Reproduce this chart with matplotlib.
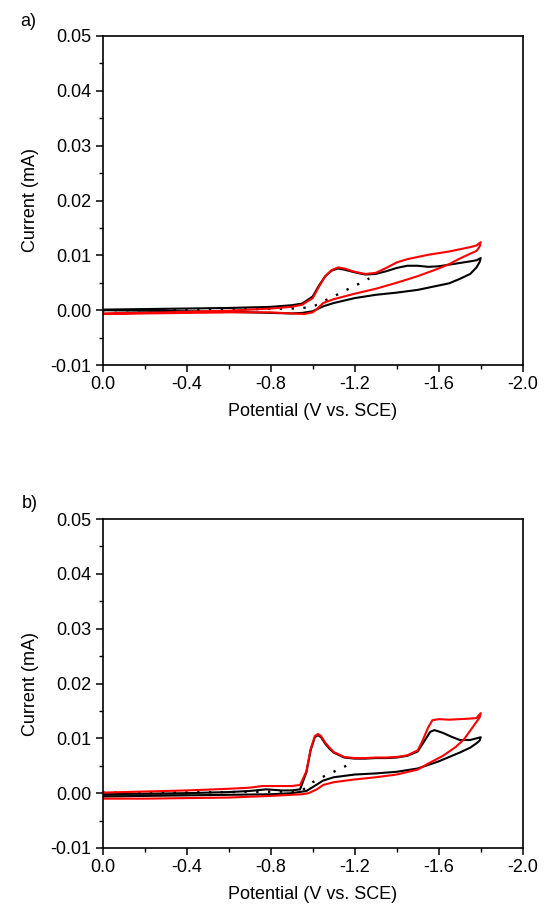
import matplotlib
matplotlib.use("Agg")
import matplotlib.pyplot as plt
from matplotlib.ticker import MultipleLocator, FormatStrFormatter

plt.rcParams['font.family'] = ['Liberation Sans', 'DejaVu Sans']
plt.rcParams['axes.unicode_minus'] = False

# ---------------- data: panel a ----------------
a_black_V = [0, -0.2, -0.4, -0.6, -0.8, -0.9, -0.95, -1.0, -1.03, -1.06, -1.09, -1.12, -1.15,
             -1.2, -1.25, -1.3, -1.35, -1.4, -1.45, -1.5, -1.55, -1.6, -1.65, -1.7, -1.75, -1.78, -1.8,
             -1.795, -1.78, -1.75, -1.7, -1.65, -1.6, -1.5, -1.4, -1.3, -1.2, -1.1, -1.05, -1.0,
             -0.95, -0.9, -0.8, -0.6, -0.4, -0.2, 0]
a_black_I = [0.0001, 0.0002, 0.0003, 0.0004, 0.0006, 0.0009, 0.0012, 0.0025, 0.0045, 0.0062, 0.0072,
             0.0076, 0.0074, 0.0069, 0.0065, 0.0066, 0.0071, 0.0077, 0.0081, 0.0081, 0.0079, 0.0080,
             0.0083, 0.0086, 0.0089, 0.0091, 0.0095,
             0.0088, 0.0078, 0.0066, 0.0057, 0.0049, 0.0045, 0.0037, 0.0032, 0.0028, 0.0022, 0.0013,
             0.0007, -0.0002, -0.0005, -0.0006, -0.0005, -0.0003, -0.0002, -0.0001, 0.0000]

a_red_V = [0, -0.2, -0.4, -0.6, -0.8, -0.9, -0.95, -1.0, -1.03, -1.06, -1.09, -1.12, -1.15,
           -1.2, -1.25, -1.3, -1.35, -1.4, -1.45, -1.5, -1.55, -1.6, -1.65, -1.7, -1.75, -1.78, -1.8,
           -1.795, -1.78, -1.75, -1.7, -1.65, -1.6, -1.5, -1.4, -1.3, -1.2, -1.1, -1.05, -1.02,
           -1.0, -0.96, -0.9, -0.8, -0.6, -0.4, -0.2, 0]
a_red_I = [-0.0006, -0.0005, -0.0003, -0.0001, 0.0003, 0.0006, 0.0010, 0.0022, 0.0043, 0.0062,
           0.0073, 0.0078, 0.0076, 0.0070, 0.0066, 0.0068, 0.0077, 0.0087, 0.0093, 0.0097, 0.0101,
           0.0104, 0.0107, 0.0111, 0.0115, 0.0118, 0.0124,
           0.0116, 0.0108, 0.0103, 0.0094, 0.0084, 0.0076, 0.0062, 0.0050, 0.0039, 0.0030, 0.0020,
           0.0013, 0.0002, -0.0004, -0.0007, -0.0006, -0.0004, -0.0004, -0.0005, -0.0006, -0.0007]

a_dot_V = [0, -0.3, -0.6, -0.9, -0.95, -1.0, -1.05, -1.1, -1.15, -1.2, -1.27]
a_dot_I = [0.0000, 0.0000, 0.0001, 0.0003, 0.0004, 0.0006, 0.0016, 0.0025, 0.0035, 0.0044, 0.0058]

# ---------------- data: panel b ----------------
b_black_V = [0, -0.2, -0.4, -0.6, -0.7, -0.78, -0.85, -0.9, -0.94, -0.97, -0.99, -1.01, -1.025,
             -1.04, -1.06, -1.08, -1.1, -1.15, -1.2, -1.25, -1.3, -1.35, -1.4, -1.45, -1.5, -1.53,
             -1.56, -1.58, -1.62, -1.66, -1.7, -1.75, -1.8,
             -1.795, -1.78, -1.75, -1.7, -1.6, -1.5, -1.4, -1.3, -1.2, -1.1, -1.05, -1.0, -0.97,
             -0.9, -0.8, -0.6, -0.4, -0.2, 0]
b_black_I = [-0.0002, -0.0001, 0.0000, 0.0002, 0.0004, 0.0007, 0.0005, 0.0005, 0.0007, 0.0038,
             0.0078, 0.0102, 0.0106, 0.0102, 0.0090, 0.0081, 0.0074, 0.0065, 0.0063, 0.0063, 0.0064,
             0.0064, 0.0065, 0.0068, 0.0076, 0.0094, 0.0112, 0.0115, 0.0110, 0.0103, 0.0097, 0.0097,
             0.0102,
             0.0096, 0.0091, 0.0083, 0.0074, 0.0058, 0.0045, 0.0039, 0.0036, 0.0034, 0.0029, 0.0023,
             0.0011, 0.0004, 0.0000, -0.0002, -0.0003, -0.0004, -0.0005, -0.0006]

b_red_V = [0, -0.2, -0.4, -0.6, -0.7, -0.76, -0.8, -0.9, -0.94, -0.97, -0.99, -1.01, -1.025,
           -1.04, -1.06, -1.08, -1.1, -1.15, -1.2, -1.25, -1.3, -1.35, -1.4, -1.45, -1.5, -1.52,
           -1.55, -1.57, -1.6, -1.65, -1.7, -1.75, -1.78, -1.8,
           -1.795, -1.78, -1.75, -1.72, -1.68, -1.62, -1.55, -1.5, -1.4, -1.3, -1.2, -1.1, -1.05,
           -1.02, -0.98, -0.95, -0.8, -0.6, -0.4, -0.2, 0]
b_red_I = [0.0001, 0.0003, 0.0005, 0.0008, 0.0010, 0.0013, 0.0013, 0.0013, 0.0015, 0.0040, 0.0080,
           0.0104, 0.0108, 0.0104, 0.0092, 0.0083, 0.0075, 0.0066, 0.0064, 0.0064, 0.0065, 0.0065,
           0.0066, 0.0069, 0.0078, 0.0093, 0.0120, 0.0133, 0.0135, 0.0134, 0.0135, 0.0136, 0.0137,
           0.0146,
           0.0138, 0.0130, 0.0114, 0.0098, 0.0084, 0.0068, 0.0054, 0.0043, 0.0034, 0.0029, 0.0025,
           0.0020, 0.0015, 0.0007, 0.0000, -0.0002, -0.0005, -0.0008, -0.0009, -0.0010, -0.0010]

b_dot_V = [0, -0.3, -0.6, -0.9, -0.95, -1.0, -1.05, -1.1, -1.15, -1.19]
b_dot_I = [0.0001, 0.0001, 0.0002, 0.0003, 0.0005, 0.0020, 0.0030, 0.0039, 0.0048, 0.0057]

panel_labels = ["a)", "b)"]
x_label = "Potential (V vs. SCE)"
y_label = "Current (mA)"

FS = 13
fig = plt.figure(figsize=(5.45, 9.14), dpi=100)
W, H = 545, 914

def make_axes(top_px, bottom_px):
    left, right = 102.7, 522.7
    return fig.add_axes([left / W, 1 - bottom_px / H, (right - left) / W, (bottom_px - top_px) / H])

ax_a = make_axes(36, 365)
ax_b = make_axes(519, 848)

panels = [
    (ax_a, a_black_V, a_black_I, a_red_V, a_red_I, a_dot_V, a_dot_I),
    (ax_b, b_black_V, b_black_I, b_red_V, b_red_I, b_dot_V, b_dot_I),
]

for ax, bV, bI, rV, rI, dV, dI in panels:
    ax.plot(dV, dI, color='black', lw=1.7, linestyle=(0, (1, 4)))
    ax.plot(bV, bI, color='black', lw=1.5)
    ax.plot(rV, rI, color='#ff0000', lw=1.5)
    ax.set_xlim(0, -2.0)
    ax.set_ylim(-0.01, 0.05)
    ax.xaxis.set_major_locator(MultipleLocator(0.4))
    ax.xaxis.set_minor_locator(MultipleLocator(0.2))
    ax.yaxis.set_major_locator(MultipleLocator(0.01))
    ax.yaxis.set_minor_locator(MultipleLocator(0.005))
    ax.xaxis.set_major_formatter(FormatStrFormatter('%.1f'))
    ax.yaxis.set_major_formatter(FormatStrFormatter('%.2f'))
    ax.tick_params(which='major', direction='out', length=5, width=1.1, labelsize=FS, pad=3)
    ax.tick_params(which='minor', direction='out', length=3, width=1.0)
    ax.tick_params(top=False, right=False)
    for s in ax.spines.values():
        s.set_linewidth(1.2)
    ax.set_xlabel(x_label, fontsize=FS, labelpad=7)
    ax.set_ylabel(y_label, fontsize=FS, labelpad=8)

fig.text(20 / W, 1 - 22 / H, panel_labels[0], fontsize=FS, ha='left', va='center')
fig.text(22 / W, 1 - 503 / H, panel_labels[1], fontsize=FS, ha='left', va='center')

fig.savefig("out.png", dpi=100)
